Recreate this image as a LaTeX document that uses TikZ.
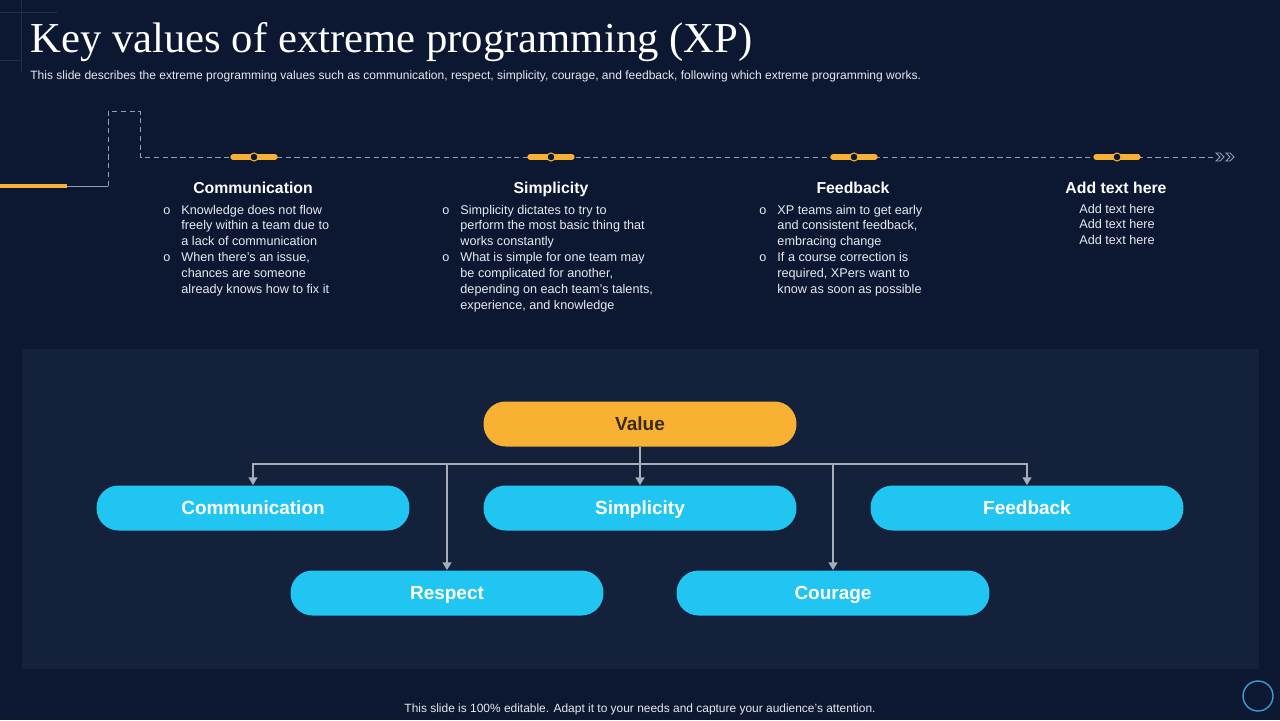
\documentclass[tikz,border=0pt]{standalone}
\usepackage{fontspec}
\setmainfont{Liberation Sans}
\newfontfamily\titlefont{Liberation Serif}
\usetikzlibrary{arrows.meta}
\definecolor{bg}{HTML}{0C1731}
\definecolor{panel}{HTML}{14213B}
\definecolor{orng}{HTML}{F8B133}
\definecolor{cyanp}{HTML}{21C5F1}
\definecolor{conn}{HTML}{A9ADB8}
\definecolor{dashc}{HTML}{959FB4}
\definecolor{faint}{HTML}{1F2C4C}
\definecolor{ring}{HTML}{3E9BD6}
\definecolor{valtext}{HTML}{3A2A12}
\definecolor{bodytext}{HTML}{E8EAF0}
\begin{document}
\begin{tikzpicture}[x=0.02cm,y=-0.02cm,
  pill/.style={rectangle, rounded corners=0.44cm, minimum width=6.26cm, minimum height=0.9cm, inner sep=0pt, text height=7.8pt, text depth=0.4pt, font=\fontsize{10.8}{12}\selectfont\bfseries},
  valuepill/.style={pill, fill=orng, text=valtext},
  childpill/.style={pill, fill=cyanp, text=white},
  head/.style={font=\fontsize{9}{11}\selectfont\bfseries, text=white, anchor=base, inner sep=0pt},
  body/.style={font=\fontsize{7.2}{9.1}\selectfont, text=bodytext, anchor=base west, inner sep=0pt, align=left},
  trunk/.style={draw=conn, line width=1.3pt},
  link/.style={draw=conn, line width=1.3pt, -{Triangle[length=4.5pt,width=5pt]}},
  tl/.style={draw=dashc, line width=0.5pt},
  tldash/.style={tl, dash pattern=on 3pt off 2pt},
  markbar/.style={draw=orng, line width=3pt, line cap=round},
  markdot/.style={draw=orng, fill=bg, line width=0.6pt}
]
\fill[bg] (0,0) rectangle (1280,720);
\useasboundingbox (0,0) rectangle (1280,720);

% faint corner lines
\draw[faint, line width=0.5pt] (21,0) -- (21,72);
\draw[faint, line width=0.5pt] (0,12) -- (58,12);
\draw[faint, line width=0.5pt] (0,60) -- (22,60);

% title
\node[anchor=base west, inner sep=0pt, text=white, font=\titlefont\fontsize{24.3}{28}\selectfont] (title) at (30,52) {Key values of extreme programming (XP)};
\node[anchor=base west, inner sep=0pt, text=bodytext, font=\fontsize{6.85}{8}\selectfont] (subtitle) at (30,79) {This slide describes the extreme programming values such as communication, respect, simplicity, courage, and feedback, following which extreme programming works.};

% timeline
\draw[orng, line width=2.8pt] (0,186) -- (67,186);
\draw[tl] (67,186) -- (108,186);
\draw[tldash] (108,186) -- (108,111) -- (140,111) -- (140,157) -- (1213,157);
\foreach \cx in {1216,1226}{
  \draw[tl] (\cx,153) -- (\cx+4,153) -- (\cx+8,157) -- (\cx+4,161) -- (\cx,161) -- (\cx+4,157) -- cycle;
}
\foreach \mx in {254,551,854,1117}{
  \draw[markbar] (\mx-21,157) -- (\mx+21,157);
  \draw[markdot] (\mx,157) circle (4);
}

% column headings
\node[head] (h1) at (253,193) {Communication};
\node[head] (h2) at (551,193) {Simplicity};
\node[head] (h3) at (853,193) {Feedback};
\node[head] (h4) at (1116,193) {Add text here};

% column bodies
\node[body] (b1) at (163,214) {\begin{tabular}[t]{@{}l@{\hspace{6.3pt}}l@{}}
o & Knowledge does not flow\\
  & freely within a team due to\\
  & a lack of communication\\
o & When there's an issue,\\
  & chances are someone\\
  & already knows how to fix it
\end{tabular}};
\node[body] (b2) at (442,214) {\begin{tabular}[t]{@{}l@{\hspace{6.3pt}}l@{}}
o & Simplicity dictates to try to\\
  & perform the most basic thing that\\
  & works constantly\\
o & What is simple for one team may\\
  & be complicated for another,\\
  & depending on each team's talents,\\
  & experience, and knowledge
\end{tabular}};
\node[body] (b3) at (759,214) {\begin{tabular}[t]{@{}l@{\hspace{6.3pt}}l@{}}
o & XP teams aim to get early\\
  & and consistent feedback,\\
  & embracing change\\
o & If a course correction is\\
  & required, XPers want to\\
  & know as soon as possible
\end{tabular}};
\node[body, anchor=base, align=center] (b4) at (1117,213) {\begin{tabular}[t]{@{}c@{}}
Add text here\\ Add text here\\ Add text here
\end{tabular}};

% panel
\fill[panel] (22,349) rectangle (1259,669);

% hierarchy
\node[valuepill] (value) at (640,424) {Value};
\node[childpill] (comm) at (253,508) {Communication};
\node[childpill] (simp) at (640,508) {Simplicity};
\node[childpill] (feed) at (1027,508) {Feedback};
\node[childpill] (resp) at (447,593) {Respect};
\node[childpill] (cour) at (833,593) {Courage};

\coordinate (hub) at (640,464);
\draw[trunk] (value.south) -- (hub);
\draw[link] (hub) -| (comm.north);
\draw[link] (hub) -| (feed.north);
\draw[link] (hub) -- (simp.north);
\draw[link] (hub) -| (resp.north);
\draw[link] (hub) -| (cour.north);

% footer
\node[anchor=base, inner sep=0pt, text=bodytext, font=\fontsize{6.8}{8}\selectfont] (footer) at (640,712) {This slide is 100\% editable. Adapt it to your needs and capture your audience's attention.};
\node[circle, draw=ring, line width=0.8pt, minimum size=0.6cm, inner sep=0pt] (ring) at (1258,696) {};
\end{tikzpicture}
\end{document}
